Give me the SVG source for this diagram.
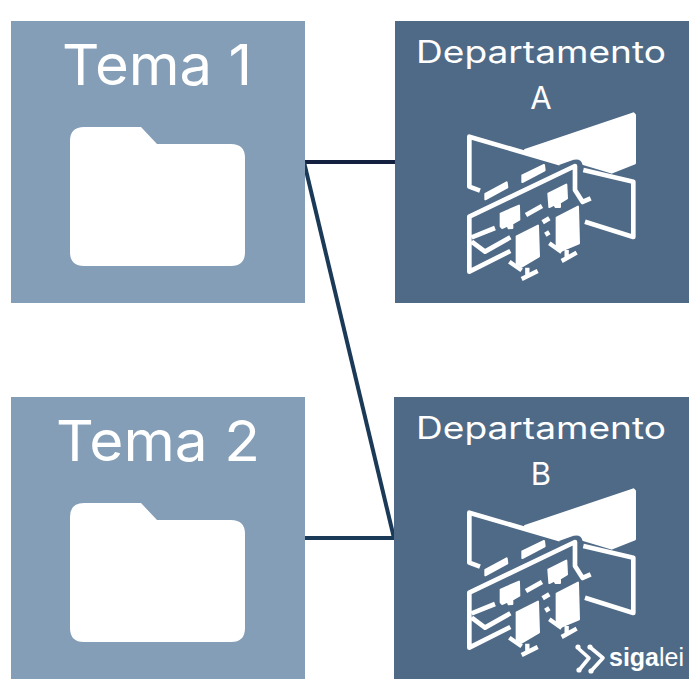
<svg xmlns="http://www.w3.org/2000/svg" width="700" height="700" viewBox="0 0 700 700">
<style>
.theme{fill:#839EB6}
.dept{fill:#4F6A86}
.t{fill:#fff;font-family:Inter,"Open Sans",sans-serif;text-anchor:middle}
.big{font-size:56px;font-weight:400}
.mid{font-size:31px;font-weight:400}
.ln{fill:none;stroke-width:4}
.s{fill:none;stroke:#fff;stroke-width:14;stroke-linejoin:round;stroke-linecap:butt}
.f{fill:#fff;stroke:#fff;stroke-width:6;stroke-linejoin:round}
.logo{fill:#fff;font-family:"Liberation Sans",Arial,sans-serif;font-size:25px}
</style>
<defs>
<path id="folder" d="M84 127H141L157 144H231Q245 144 245 158V252Q245 266 231 266H84Q70 266 70 252V141Q70 127 84 127Z" fill="#fff"/>
<g id="icon" transform="translate(450 100) scale(.3333)">
<path class="f" d="M225 150L550 40L555 45V190L485 218L400 192Q396 172 372 176L330 191Z"/>
<path class="s" d="M90 272L58 260V110L330 190M400 210L550 245V411L405 365"/>
<path class="s" d="M422 295L398 306L375 270V198L58 350V515L181 453M65 425L105 455L181 412M65 412L135 384M228 345L276 318M278 367L298 355M286 404L298 397"/>
<path class="f" d="M106 282L170 247L172 262L106 298ZM217 226L282 195L284 211L217 246Z"/>
<path class="f" d="M152 341L207 317L208 359L187 371V384L176 385L173 377L156 384L152 379ZM295 281L349 254L351 295L330 308V321L317 321L313 314L298 321Z"/>
<path class="f" d="M200 409L264 377L267 469L215 500L200 490ZM320 353L384 320L387 430L335 452L320 442Z"/>
<path class="s" d="M178 485L215 511M232 503V526M215 537L263 513M298 430L335 456M350 450V475M335 483L380 458" style="stroke-width:13"/>
</g>
</defs>
<g id="connectors">
<path class="ln" stroke="#14203F" d="M305 162H395"/>
<path class="ln" stroke="#1B3A57" d="M304 162L394 538"/>
<path class="ln" stroke="#1B3A57" d="M305 538H395"/>
</g>
<g id="tema1">
<rect class="theme" x="11" y="21" width="294" height="282"/>
<text class="t big" x="157" y="85" textLength="190" lengthAdjust="spacingAndGlyphs">Tema 1</text>
<use href="#folder"/>
</g>
<g id="tema2">
<rect class="theme" x="11" y="397" width="294" height="282"/>
<text class="t big" x="158" y="461" textLength="204" lengthAdjust="spacingAndGlyphs">Tema 2</text>
<use href="#folder" y="376"/>
</g>
<g id="departamento-a">
<rect class="dept" x="395" y="21" width="294" height="282"/>
<text class="t mid" x="541" y="63" textLength="250" lengthAdjust="spacingAndGlyphs">Departamento</text>
<text class="t mid" x="541" y="109">A</text>
<use href="#icon"/>
</g>
<g id="departamento-b">
<rect class="dept" x="394" y="397" width="295" height="282"/>
<text class="t mid" x="541" y="439" textLength="250" lengthAdjust="spacingAndGlyphs">Departamento</text>
<text class="t mid" x="541" y="485">B</text>
<use href="#icon" y="376"/>
</g>
<g id="logo">
<path d="M579 649L589 658L580 669M591 648L603 658L592 670" fill="none" stroke="#fff" stroke-width="3.6" stroke-linecap="round" stroke-linejoin="round"/>
<g fill="#fff"><circle cx="578" cy="647" r="2.6"/><circle cx="579" cy="670" r="2.6"/><circle cx="590" cy="647" r="2.6"/><circle cx="591" cy="671" r="2.6"/></g>
<text class="logo" x="609" y="666"><tspan font-weight="700">siga</tspan><tspan font-weight="400">lei</tspan></text>
</g>
</svg>
